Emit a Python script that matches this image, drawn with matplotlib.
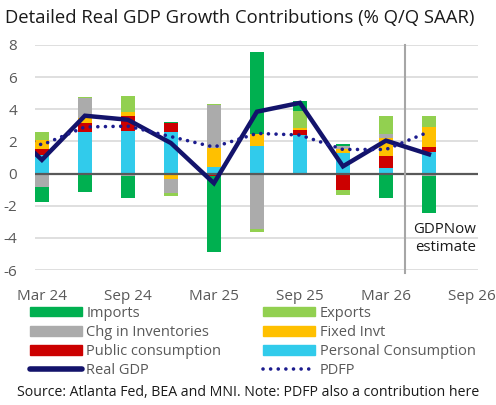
import numpy as np
import matplotlib
matplotlib.use("Agg")
import matplotlib.pyplot as plt
from matplotlib.lines import Line2D
from matplotlib.patches import Patch

# quarters for lines (Dec 23 is clipped at the left edge)
quarters = ['Dec 23', 'Mar 24', 'Jun 24', 'Sep 24', 'Dec 24', 'Mar 25', 'Jun 25',
            'Sep 25', 'Dec 25', 'Mar 26', 'Jun 26']
tick_labels = ['Mar 24', 'Sep 24', 'Mar 25', 'Sep 25', 'Mar 26', 'Sep 26']

# contributions (bars: Mar 24 .. Jun 26)
personal = [1.16, 2.61, 2.65, 2.60, 0.41, 1.70, 2.37, 1.27, 0.35, 1.35]
public = [0.35, 0.52, 0.93, 0.55, -0.15, 0.00, 0.37, -1.02, 0.75, 0.31]
fixed = [0.60, 0.31, 0.28, -0.31, 1.17, 0.79, 0.12, 0.24, 1.14, 1.24]
inventory = [-0.83, 1.27, -0.15, -0.93, 2.69, -3.44, -0.12, 0.21, 0.25, -0.15]
exports = [0.50, 0.05, 0.97, -0.13, 0.03, -0.21, 1.06, -0.29, 1.10, 0.69]
imports = [-0.93, -1.12, -1.34, 0.05, -4.70, 5.06, 0.62, 0.13, -1.49, -2.28]

real_gdp = [3.4, 0.85, 3.6, 3.35, 1.9, -0.6, 3.85, 4.4, 0.45, 2.05, 1.2]
pdfp = [3.0, 1.78, 2.9, 2.95, 2.3, 1.65, 2.5, 2.4, 1.5, 1.5, 2.6]

series = [
    ('Personal Consumption', personal, '#31CBEB'),
    ('Public consumption', public, '#CC0000'),
    ('Fixed Invt', fixed, '#FFC000'),
    ('Chg in Inventories', inventory, '#ABABAB'),
    ('Exports', exports, '#92D050'),
    ('Imports', imports, '#00B050'),
]
colors = {name: c for name, _, c in series}

plt.rcParams['font.family'] = ['Open Sans', 'DejaVu Sans']

fig = plt.figure(figsize=(4.96, 4.05), dpi=100)
ax = fig.add_axes([35/496, 1-270/405, (478-35)/496, (270-45)/405])

x_line = np.arange(len(quarters))
x_bar = x_line[1:]
pos_base = np.zeros(len(x_bar))
neg_base = np.zeros(len(x_bar))
for name, vals, c in series:
    v = np.array(vals, dtype=float)
    bottom = np.where(v >= 0, pos_base, neg_base)
    ax.bar(x_bar, v, width=0.34, bottom=bottom, color=c, zorder=2, linewidth=0)
    pos_base = pos_base + np.where(v >= 0, v, 0)
    neg_base = neg_base + np.where(v < 0, v, 0)

gdp_color = '#13136B'
pdfp_color = '#1C1C8E'
ax.plot(x_line, real_gdp, color=gdp_color, lw=3.2, zorder=4, solid_joinstyle='miter')
ax.plot(x_line, pdfp, color=pdfp_color, lw=2.6, linestyle=(0, (0.01, 2.1)),
        dash_capstyle='round', zorder=5)

ax.axhline(0, color='#595959', lw=1.6, zorder=3)
# separator between released data and the GDPNow estimate
ax.axvline(9.45, color='#A6A6A6', lw=1.5, zorder=3, ymin=-0.013, ymax=1, clip_on=False)

ax.set_ylim(-6, 8)
ax.set_xlim(0.84, 11.14)
ax.set_yticks(range(-6, 9, 2))
ax.set_yticklabels([str(v) for v in range(-6, 9, 2)])
ax.set_xticks([1, 3, 5, 7, 9, 11])
ax.set_xticklabels(tick_labels)
ax.grid(axis='y', color='#D9D9D9', lw=1.2, zorder=0)
ax.set_axisbelow(True)
for s in ax.spines.values():
    s.set_visible(False)
ax.tick_params(axis='both', length=0, colors='#595959', labelsize=11)
ax.tick_params(axis='y', pad=13)
ax.tick_params(axis='x', pad=14)

ax.text(11.1, -3.0, 'GDPNow\nestimate', ha='right', va='top', fontsize=10.8,
        color='#1A1A1A', linespacing=1.3, zorder=6)

fig.text(0.010, 0.955, 'Detailed Real GDP Growth Contributions (% Q/Q SAAR)',
         fontsize=13.3, color='#1A1A1A', va='center', ha='left')

# legend (column-major fill -> row-major appearance)
h_imp = Patch(color=colors['Imports'])
h_exp = Patch(color=colors['Exports'])
h_inv = Patch(color=colors['Chg in Inventories'])
h_fix = Patch(color=colors['Fixed Invt'])
h_pub = Patch(color=colors['Public consumption'])
h_per = Patch(color=colors['Personal Consumption'])
h_gdp = Line2D([], [], color=gdp_color, lw=4, solid_capstyle='round')
h_pdfp = Line2D([], [], color=pdfp_color, lw=2.6, linestyle=(0, (0.01, 2.1)),
                dash_capstyle='round')
handles = [h_imp, h_inv, h_pub, h_gdp, h_exp, h_fix, h_per, h_pdfp]
labels = ['Imports', 'Chg in Inventories', 'Public consumption', 'Real GDP',
          'Exports', 'Fixed Invt', 'Personal Consumption', 'PDFP']
leg = fig.legend(handles, labels, ncol=2, loc='upper left',
                 bbox_to_anchor=(30/496, 1-306/405), frameon=False,
                 fontsize=10.5, handlelength=3.55, handleheight=0.6,
                 columnspacing=2.9, labelspacing=0.28, handletextpad=0.3,
                 borderpad=0, borderaxespad=0)
for t in leg.get_texts():
    t.set_color('#595959')

fig.text(0.5, 1-392/405, 'Source: Atlanta Fed, BEA and MNI. Note: PDFP also a contribution here',
         fontsize=10.2, color='#1A1A1A', ha='center', va='center')

fig.savefig('out.png', dpi=100)
